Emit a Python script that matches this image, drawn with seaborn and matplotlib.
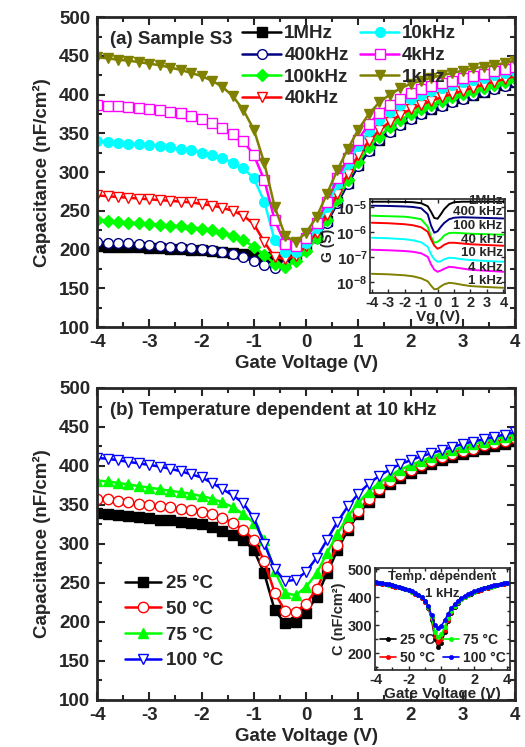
import numpy as np
import seaborn as sns
import matplotlib
matplotlib.use("Agg")
import matplotlib.pyplot as plt
from matplotlib.ticker import MultipleLocator, NullLocator, FixedLocator

# gate voltage grid used by the C-V sweeps (0.2 V steps)
V = np.linspace(-4, 4, 41)

# (a) capacitance vs frequency, nF/cm^2
c_1MHz = [205, 204, 204, 203, 203, 202, 202, 201, 201, 200, 199, 198, 197, 196, 195, 193, 191, 189, 190, 194, 203,
          217, 237, 261, 286, 309, 328, 342, 353, 362, 370, 376, 382, 387, 392, 396, 400, 404, 408, 412, 417]
c_400k = [210, 209, 208, 208, 207, 206, 205, 204, 203, 202, 201, 199, 197, 194, 190, 185, 180, 176, 180, 188, 200,
          215, 235, 260, 285, 308, 327, 341, 352, 361, 369, 375, 381, 386, 391, 395, 399, 403, 407, 411, 416]
c_100k = [238, 237, 236, 235, 234, 233, 232, 231, 230, 228, 227, 225, 222, 218, 212, 204, 193, 182, 178, 185, 198,
          215, 238, 264, 290, 313, 332, 346, 358, 367, 375, 381, 387, 392, 397, 401, 405, 409, 413, 416, 420]
c_40k = [270, 269, 268, 267, 266, 265, 264, 263, 262, 261, 259, 257, 254, 250, 244, 233, 210, 190, 188, 192, 205,
         222, 245, 272, 298, 322, 340, 354, 365, 374, 381, 387, 392, 397, 401, 405, 409, 413, 417, 420, 424]
c_10k = [340, 339, 338, 337, 336, 335, 334, 332, 330, 328, 325, 322, 318, 312, 305, 292, 262, 212, 197, 197, 208,
         228, 255, 285, 311, 334, 353, 367, 378, 387, 394, 400, 405, 409, 413, 416, 419, 422, 425, 428, 430]
c_4k = [387, 386, 385, 384, 383, 382, 380, 378, 376, 373, 369, 364, 357, 349, 340, 322, 290, 238, 207, 205, 215,
        235, 262, 292, 318, 342, 362, 376, 387, 395, 402, 407, 411, 415, 418, 421, 424, 427, 430, 433, 436]
c_1k = [448, 447, 445, 444, 442, 440, 438, 435, 432, 428, 424, 418, 410, 398, 380, 355, 312, 255, 218, 210, 222,
        242, 272, 303, 330, 355, 375, 390, 400, 408, 414, 418, 422, 425, 428, 431, 434, 436, 438, 441, 444]

freq_labels = ["1MHz", "400kHz", "100kHz", "40kHz", "10kHz", "4kHz", "1kHz"]

# (a) inset: conductance, log10 G (S)
VG = [-4, -3, -2, -1.5, -1, -0.6, -0.4, -0.2, 0, 0.2, 0.4, 0.7, 1, 1.5, 2, 3, 4]
g_1MHz = [-4.80, -4.80, -4.81, -4.82, -4.86, -4.98, -5.20, -5.45, -5.48, -5.30, -5.10, -4.90, -4.82, -4.80, -4.80, -4.80, -4.80]
g_400k = [-4.96, -4.97, -4.99, -5.01, -5.06, -5.30, -5.75, -6.04, -5.98, -5.80, -5.65, -5.50, -5.44, -5.42, -5.43, -5.45, -5.47]
g_100k = [-5.36, -5.38, -5.40, -5.44, -5.50, -5.80, -6.20, -6.44, -6.40, -6.30, -6.15, -6.05, -6.04, -6.06, -6.08, -6.10, -6.12]
g_40k = [-5.64, -5.66, -5.70, -5.74, -5.82, -6.00, -6.30, -6.55, -6.68, -6.62, -6.52, -6.44, -6.44, -6.47, -6.50, -6.53, -6.56]
g_10k = [-6.24, -6.26, -6.30, -6.34, -6.42, -6.60, -6.90, -7.10, -7.20, -7.18, -7.10, -7.04, -7.05, -7.10, -7.13, -7.17, -7.20]
g_4k = [-6.72, -6.74, -6.77, -6.80, -6.86, -7.00, -7.30, -7.52, -7.60, -7.55, -7.48, -7.40, -7.42, -7.47, -7.52, -7.56, -7.60]
g_1k = [-7.68, -7.70, -7.74, -7.78, -7.86, -7.98, -8.15, -8.30, -8.28, -8.18, -8.10, -8.04, -8.06, -8.12, -8.17, -8.21, -8.24]
g_labels = ["1MHz", "400 kHz", "100 kHz", "40 kHz", "10 kHz", "4 kHz", "1 kHz"]

# (b) capacitance vs temperature at 10 kHz
t_25 = [340, 338, 337, 335, 334, 333, 331, 330, 328, 327, 325, 322, 316, 311, 305, 292, 262, 215, 198, 200, 212,
        232, 262, 292, 318, 338, 354, 366, 376, 384, 391, 397, 402, 407, 411, 415, 419, 422, 425, 428, 432]
t_50 = [358, 357, 355, 353, 351, 350, 348, 347, 345, 343, 341, 338, 333, 327, 318, 305, 278, 237, 214, 213, 223,
        242, 270, 298, 322, 342, 358, 370, 380, 388, 395, 401, 406, 411, 415, 419, 422, 426, 429, 432, 435]
t_75 = [381, 380, 378, 376, 374, 372, 370, 368, 366, 364, 361, 358, 353, 347, 338, 327, 305, 265, 237, 234, 245,
        262, 288, 313, 335, 353, 367, 378, 387, 395, 401, 406, 411, 416, 420, 424, 428, 431, 434, 437, 440]
t_100 = [410, 409, 407, 405, 403, 401, 399, 396, 393, 389, 385, 378, 370, 362, 352, 333, 300, 268, 252, 254, 264,
         282, 305, 328, 348, 364, 377, 387, 395, 402, 407, 412, 416, 420, 424, 428, 431, 434, 437, 440, 443]
temp_labels = ["25 °C", "50 °C", "75 °C", "100 °C"]

# (b) inset: temperature dependence at 1 kHz
i_25 = [452, 450, 448, 446, 444, 441, 438, 435, 432, 428, 424, 419, 413, 406, 397, 383, 362, 320, 250, 222, 238,
        275, 315, 345, 365, 380, 392, 400, 407, 413, 418, 423, 427, 431, 434, 437, 440, 443, 446, 448, 451]
i_50 = [452, 450, 448, 446, 444, 441, 438, 435, 432, 428, 424, 419, 413, 406, 397, 384, 364, 325, 262, 239, 252,
        284, 320, 348, 367, 381, 393, 401, 408, 414, 419, 423, 427, 431, 434, 437, 440, 443, 446, 448, 451]
i_75 = [453, 451, 449, 447, 445, 442, 439, 436, 433, 429, 425, 420, 414, 407, 399, 386, 366, 330, 275, 257, 268,
        295, 327, 352, 370, 383, 394, 402, 409, 415, 420, 424, 428, 432, 435, 438, 441, 444, 447, 449, 452]
i_100 = [454, 452, 450, 448, 446, 443, 440, 437, 434, 430, 426, 421, 415, 408, 400, 388, 368, 335, 300, 289, 298,
         318, 340, 360, 375, 387, 397, 404, 411, 416, 421, 425, 429, 432, 436, 439, 442, 445, 447, 450, 452]

sns.set_style("ticks")
plt.rcParams['font.family'] = ['Liberation Sans', 'DejaVu Sans']
plt.rcParams['font.weight'] = 'bold'
plt.rcParams['axes.labelweight'] = 'bold'
plt.rcParams['axes.unicode_minus'] = False
plt.rcParams['mathtext.fontset'] = 'custom'
plt.rcParams['mathtext.rm'] = 'Liberation Sans:bold'
plt.rcParams['mathtext.bf'] = 'Liberation Sans:bold'
plt.rcParams['mathtext.default'] = 'bf'

fig = plt.figure(figsize=(5.25, 7.47), dpi=100)
ax1 = fig.add_axes([0.185, 0.562, 0.796, 0.415])
ax2 = fig.add_axes([0.185, 0.063, 0.796, 0.418])


def style_main(ax):
    ax.set_xlim(-4, 4)
    ax.set_ylim(100, 500)
    ax.xaxis.set_major_locator(MultipleLocator(1))
    ax.xaxis.set_minor_locator(MultipleLocator(0.5))
    ax.yaxis.set_major_locator(MultipleLocator(50))
    ax.yaxis.set_minor_locator(MultipleLocator(25))
    ax.tick_params(which='both', direction='in', top=True, right=True, width=1.5, labelsize=13.5, pad=5)
    ax.tick_params(which='major', length=6)
    ax.tick_params(which='minor', length=3.5)
    for s in ax.spines.values():
        s.set_linewidth(2)
        s.set_visible(True)
    ax.set_xlabel("Gate Voltage (V)", fontsize=13.5, labelpad=3)
    ax.set_ylabel("Capacitance (nF/cm²)", fontsize=13.5, labelpad=6)


# ---- panel (a)
freq_series = [c_1MHz, c_400k, c_100k, c_40k, c_10k, c_4k, c_1k]
freq_style = [
    ("black", "s", "black"),
    ("navy", "o", "white"),
    ("lime", "D", "lime"),
    ("red", "v", "white"),
    ("cyan", "o", "cyan"),
    ("magenta", "s", "white"),
    ("olive", "v", "olive"),
]
for vals, lab, (col, mk, fc) in zip(freq_series, freq_labels, freq_style):
    sns.lineplot(x=V, y=vals, ax=ax1, color=col, marker=mk, markersize=7 if mk != "D" else 6,
                 mfc=fc, mec=col, mew=1.0, linewidth=1.8, label=lab)
style_main(ax1)
ax1.legend(loc='upper left', bbox_to_anchor=(0.32, 1.01), ncol=2, frameon=False, fontsize=13.5,
           handlelength=2.1, handletextpad=0.15, labelspacing=0.24, columnspacing=0.6, borderpad=0.1)
ax1.text(0.03, 0.955, "(a) Sample S3", transform=ax1.transAxes, fontsize=13.5, fontweight='bold', va='top')

# inset (a)
axg = fig.add_axes([0.705, 0.608, 0.257, 0.126])
g_series = [g_1MHz, g_400k, g_100k, g_40k, g_10k, g_4k, g_1k]
for vals, (col, mk, fc) in zip(g_series, freq_style):
    sns.lineplot(x=VG, y=10 ** np.array(vals), ax=axg, color=col, linewidth=1.4)
axg.set_yscale('log')
axg.set_xlim(-4.1, 4.1)
axg.set_ylim(10 ** -8.44, 10 ** -4.68)
axg.xaxis.set_major_locator(MultipleLocator(1))
axg.yaxis.set_major_locator(FixedLocator([1e-8, 1e-7, 1e-6, 1e-5]))
axg.yaxis.set_minor_locator(NullLocator())
axg.tick_params(which='both', direction='in', right=True, top=True, length=3, width=1, pad=2)
axg.tick_params(axis='x', labelsize=10.5)
axg.tick_params(axis='y', labelsize=11)
for s in axg.spines.values():
    s.set_linewidth(1.2)
    s.set_visible(True)
axg.set_xlabel("Vg (V)", fontsize=11, labelpad=0)
axg.set_ylabel("G (S)", fontsize=10, labelpad=1)
g_label_pos = [-4.78, -5.2, -5.76, -6.32, -6.84, -7.44, -7.96]
for lab, yl in zip(g_labels, g_label_pos):
    axg.text(3.95, 10 ** yl, lab, ha='right', va='center', fontsize=9.5, fontweight='bold')

# ---- panel (b)
temp_series = [t_25, t_50, t_75, t_100]
temp_style = [
    ("black", "s", "black"),
    ("red", "o", "white"),
    ("lime", "^", "lime"),
    ("blue", "v", "white"),
]
for vals, lab, (col, mk, fc) in zip(temp_series, temp_labels, temp_style):
    sns.lineplot(x=V, y=vals, ax=ax2, color=col, marker=mk, markersize=7.5, mfc=fc, mec=col, mew=1.0,
                 linewidth=1.8, label=lab)
style_main(ax2)
ax2.legend(loc='upper left', bbox_to_anchor=(0.04, 0.435), frameon=False, fontsize=13.5,
           handlelength=1.9, handletextpad=0.3, labelspacing=0.45, borderpad=0.1)
ax2.text(0.03, 0.955, "(b) Temperature dependent at 10 kHz", transform=ax2.transAxes, fontsize=13.5,
         fontweight='bold', va='top')

# inset (b)
axi = fig.add_axes([0.714, 0.103, 0.257, 0.137])
inset_series = [i_25, i_50, i_75, i_100]
for vals, lab, (col, mk, fc) in zip(inset_series, temp_labels, temp_style):
    sns.lineplot(x=V, y=vals, ax=axi, color=col, marker='o', markersize=3, mec=col, mew=0.5,
                 linewidth=1.2, label=lab)
axi.set_xlim(-4.05, 4.15)
axi.set_ylim(140, 505)
axi.xaxis.set_major_locator(MultipleLocator(2))
axi.xaxis.set_minor_locator(MultipleLocator(1))
axi.yaxis.set_major_locator(MultipleLocator(100))
axi.yaxis.set_minor_locator(MultipleLocator(50))
axi.tick_params(which='both', direction='in', right=True, top=True, labelsize=10.5, width=1, pad=2)
axi.tick_params(which='major', length=3)
axi.tick_params(which='minor', length=2)
for s in axi.spines.values():
    s.set_linewidth(1.2)
    s.set_visible(True)
axi.set_xlabel("Gate Voltage (V)", fontsize=11, labelpad=0)
axi.set_ylabel("C (nF/cm²)", fontsize=10.5, labelpad=1)
axi.text(0.5, 0.97, "Temp. dependent", transform=axi.transAxes, ha='center', va='top', fontsize=9.5,
         fontweight='bold')
axi.text(0.5, 0.80, "1 kHz", transform=axi.transAxes, ha='center', va='top', fontsize=9.5, fontweight='bold')
axi.legend(loc='lower left', bbox_to_anchor=(-0.02, -0.03), ncol=2, frameon=False, fontsize=10,
           handlelength=1.1, handletextpad=0.3, labelspacing=0.25, columnspacing=0.6, borderpad=0.1)

fig.savefig("out.png", dpi=100)
